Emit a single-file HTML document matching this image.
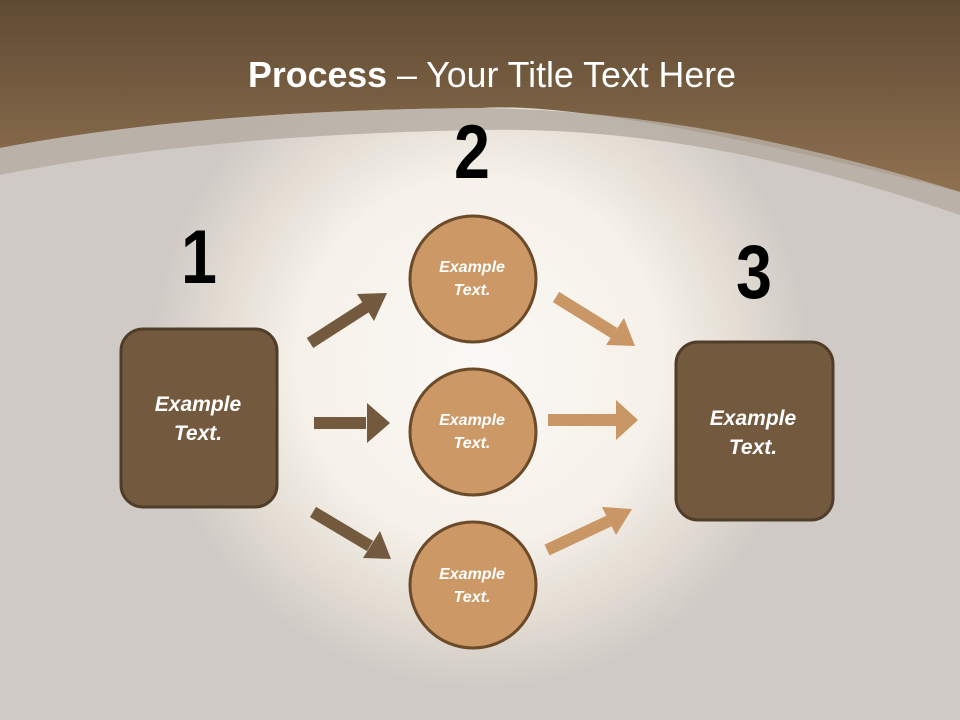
<!DOCTYPE html>
<html><head><style>
html,body{margin:0;padding:0;width:960px;height:720px;overflow:hidden}
svg text{font-family:"Liberation Sans",sans-serif}
</style></head><body>
<svg width="960" height="720" viewBox="0 0 960 720" xmlns="http://www.w3.org/2000/svg">
<defs>
<radialGradient id="bg" cx="480" cy="360" r="330" gradientUnits="userSpaceOnUse">
<stop offset="0" stop-color="#faf8f5"/><stop offset="0.55" stop-color="#f6f1e9"/><stop offset="0.8" stop-color="#e2dcd3"/><stop offset="1" stop-color="#cfcac5"/>
</radialGradient>
<linearGradient id="hd" x1="0" y1="0" x2="0" y2="1">
<stop offset="0" stop-color="#5f4a33"/><stop offset="1" stop-color="#8f7150"/>
</linearGradient>
</defs>
<rect width="960" height="720" fill="#cfcbc7"/>
<rect width="960" height="720" fill="url(#bg)"/>
<path d="M0,0 H960 V192 Q600,100 480,108 Q200,110 0,148 Z" fill="url(#hd)"/>
<path d="M0,148 Q200,110 480,108 Q700,110 960,192 V215 Q700,125 480,130 Q200,135 0,175 Z" fill="#b6ada3" opacity="0.85"/>
<text x="492" y="87" text-anchor="middle" fill="#fff" font-size="36" textLength="488" lengthAdjust="spacingAndGlyphs"><tspan font-weight="bold">Process</tspan> – Your Title Text Here</text>
<g font-weight="bold" font-size="76" text-anchor="middle" fill="#000">
<text transform="translate(199,283) scale(0.85,1)">1</text><text transform="translate(472,178) scale(0.85,1)">2</text><text transform="translate(754,298) scale(0.85,1)">3</text></g>
<g stroke-width="12" fill="none">
<g stroke="#735a3e">
<line x1="310" y1="343" x2="366" y2="307"/><line x1="314" y1="423" x2="366" y2="423"/><line x1="313" y1="512" x2="370" y2="546"/></g>
<g stroke="#c99666">
<line x1="556" y1="297" x2="614" y2="333"/><line x1="548" y1="420" x2="616" y2="420"/><line x1="547" y1="550" x2="609" y2="521"/></g>
</g>
<g fill="#735a3e">
<polygon points="387,293 357,294 374,321" /><polygon points="390,423 367,403 367,443"/><polygon points="391,559 380,531 363,558"/></g>
<g fill="#c99666">
<polygon points="635,346 624,318 606,345"/><polygon points="638,420 616,400 616,440"/><polygon points="632,509 602,507 616,535"/></g>
<g fill="#cc9966" stroke="#6b4a2a" stroke-width="3">
<circle cx="473" cy="279" r="63"/><circle cx="473" cy="432" r="63"/><circle cx="473" cy="585" r="63"/></g>
<g fill="#735a3e" stroke="#4f3d2a" stroke-width="3">
<rect x="121" y="329" width="156" height="178" rx="22"/><rect x="676" y="342" width="157" height="178" rx="22"/></g>
<g fill="#fff" font-weight="bold" font-style="italic" text-anchor="middle">
<g font-size="16"><text x="472" y="272">Example</text><text x="472" y="295">Text.</text>
<text x="472" y="425">Example</text><text x="472" y="448">Text.</text>
<text x="472" y="579">Example</text><text x="472" y="602">Text.</text></g>
<g font-size="21"><text x="198" y="411">Example</text><text x="198" y="440">Text.</text>
<text x="753" y="425">Example</text><text x="753" y="454">Text.</text></g></g>
</svg>
</body></html>
